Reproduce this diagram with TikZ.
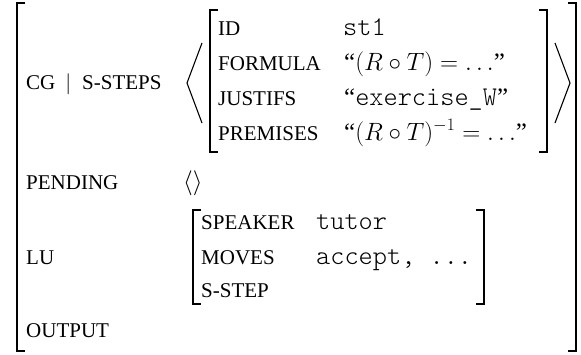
\documentclass[tikz,border=0pt]{standalone}
\usepackage{fix-cm}
\usepackage{fontspec}
\setmainfont{Liberation Serif}
\setmonofont{Latin Modern Mono Light}
\begin{document}
\begin{tikzpicture}[x=1pt, y=-1pt, line join=miter,
		lbl/.style={anchor=base west, inner sep=0pt, font=\fontsize{21}{24}\selectfont},
		mth/.style={anchor=base west, inner sep=0pt, font=\fontsize{25}{28}\selectfont},
		val/.style={anchor=base west, inner sep=0pt, font=\fontsize{27}{28}\selectfont\ttfamily},
		brk/.style={line width=1.7pt},
		ang/.style={line width=1.1pt}]
		\useasboundingbox (0,0) rectangle (581,354);
		% outer matrix
		\draw[brk] (25,3) -- (17,3) -- (17,351) -- (25,351);
		\draw[brk] (568,3) -- (576,3) -- (576,351) -- (568,351);
		\node[lbl] (cg) at (26,89) {CG\hspace{10pt}$|$\hspace{11pt}S-STEPS};
		\node[lbl] (pending) at (26,189) {PENDING};
		\node[lbl] (lu) at (26,264) {LU};
		\node[lbl] (output) at (26,337) {OUTPUT};
		% list of steps
		\draw[ang] (202,43) -- (187,83) -- (202,123);
		\draw[ang] (555,43) -- (570,83) -- (555,123);
		\draw[brk] (218,10) -- (210,10) -- (210,152) -- (218,152);
		\draw[brk] (539,10) -- (547,10) -- (547,152) -- (539,152);
		\node[lbl] (id) at (218,35) {ID};
		\node[lbl] (formula) at (218,70) {FORMULA};
		\node[lbl] (justifs) at (218,105) {JUSTIFS};
		\node[lbl] (premises) at (218,140) {PREMISES};
		\node[val] (idval) at (343,35) {st1};
		\node[mth] (formulaval) at (344,70) {“$(R\circ T)=\ldots$”};
		\node[mth] (justifsval) at (344,105) {“\texttt{\fontsize{27}{28}\selectfont exercise\_W}”};
		\node[mth] (premisesval) at (344,140) {“$(R\circ T)^{-1}=\ldots$”};
		% pending
		\node[mth] (pendingval) at (183,189) {$\langle\rangle$};
		% latest utterance
		\draw[brk] (201,210) -- (193,210) -- (193,304) -- (201,304);
		\draw[brk] (476,210) -- (484,210) -- (484,304) -- (476,304);
		\node[lbl] (speaker) at (201,229) {SPEAKER};
		\node[lbl] (moves) at (201,264) {MOVES};
		\node[lbl] (sstep) at (201,297) {S-STEP};
		\node[val] (speakerval) at (316,229) {tutor};
		\node[val] (movesval) at (316,264) {accept, ...};
	\end{tikzpicture}
\end{document}
